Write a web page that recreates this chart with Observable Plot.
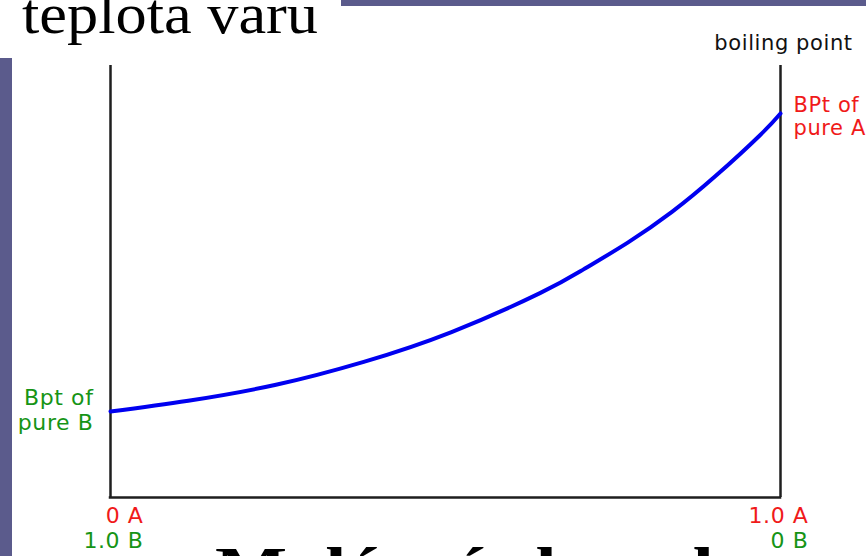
<!DOCTYPE html>
<html>
<head>
<meta charset="utf-8">
<script src="https://cdn.jsdelivr.net/npm/d3@7"></script>
<script src="https://cdn.jsdelivr.net/npm/@observablehq/plot@0.6"></script>
<style>
  html, body { margin: 0; padding: 0; background: #ffffff; }
  #wrap { position: relative; width: 866px; height: 556px; overflow: hidden; background: #ffffff; }
  .strip { position: absolute; background: #5b5b8c; }
  #wrap > svg { position: absolute; left: 0; top: 0; }
  #wrap svg.plotchart text { letter-spacing: 0.6px; }
</style>
</head>
<body>
<div id="wrap">
  <div class="strip" style="left:341px; top:0; width:525px; height:6px;"></div>
  <div class="strip" style="left:0; top:58px; width:12px; height:498px;"></div>
</div>
<script>
// Mole fraction of A (x axis) and boiling point (arbitrary units, 0..100 = axis height)
const moleFractionA = [0, 0.116, 0.247, 0.378, 0.509, 0.641, 0.706, 0.772, 0.838, 0.903, 0.969, 1.0];
const boilingPoint  = [19.9, 22.4, 26.1, 31.4, 38.3, 47.3, 52.8, 59.0, 66.1, 74.4, 83.8, 88.9];

const titleText = "teplota varu";
const xTitleText = "Molární zlomek";
const yAxisLabel = "boiling point";
const pureBLabel = "Bpt of\npure B";
const pureALabel = "BPt of\npure A";
const leftTickA = "0 A", leftTickB = "1.0 B";
const rightTickA = "1.0 A", rightTickB = "0 B";

const RED = "#f01a1a", GREEN = "#169416", AXIS = "#1e1e1e";

const data = moleFractionA.map((x, i) => ({x, y: boilingPoint[i]}));
const n = data.length - 1;

const font = "DejaVu Sans";
const fs = 22;

const chart = Plot.plot({
  className: "plotchart",
  width: 866,
  height: 556,
  marginLeft: 110,
  marginRight: 86,
  marginTop: 65,
  marginBottom: 59,
  x: {domain: [0, 1], axis: null},
  y: {domain: [0, 100], axis: null},
  style: {background: "transparent", fontFamily: font, overflow: "visible"},
  marks: [
    Plot.ruleX([0, 1], {y1: 0, y2: 100, stroke: AXIS, strokeWidth: 2.5}),
    Plot.ruleY([0], {x1: 0, x2: 1, stroke: AXIS, strokeWidth: 2.5, strokeLinecap: "square"}),
    Plot.line(data, {x: "x", y: "y", stroke: "#0000f0", strokeWidth: 4, curve: "natural"}),
    // axis title
    Plot.text([yAxisLabel], {x: () => 1, y: () => 100, text: d => d, fontSize: 21, fill: "#111",
      textAnchor: "middle", lineAnchor: "bottom", dx: 3, dy: -16}),
    // end labels
    Plot.text([data[0]], {x: "x", y: "y", text: () => pureBLabel, fontSize: fs, fill: GREEN,
      textAnchor: "end", lineAnchor: "middle", dx: -17, dy: -2, lineHeight: 1.15}),
    Plot.text([data[n]], {x: "x", y: "y", text: () => pureALabel, fontSize: 21, fill: RED,
      textAnchor: "start", lineAnchor: "middle", dx: 13, dy: 3, lineHeight: 1.1}),
    // tick labels
    Plot.text([leftTickA], {x: () => 0, y: () => 0, text: d => d, fontSize: fs, fill: RED,
      textAnchor: "end", lineAnchor: "top", dx: 33, dy: 10}),
    Plot.text([leftTickB], {x: () => 0, y: () => 0, text: d => d, fontSize: fs, fill: GREEN,
      textAnchor: "end", lineAnchor: "top", dx: 33, dy: 35}),
    Plot.text([rightTickA], {x: () => 1, y: () => 0, text: d => d, fontSize: fs, fill: RED,
      textAnchor: "end", lineAnchor: "top", dx: 28, dy: 10}),
    Plot.text([rightTickB], {x: () => 1, y: () => 0, text: d => d, fontSize: fs, fill: GREEN,
      textAnchor: "end", lineAnchor: "top", dx: 28, dy: 35})
  ]
});

const wrap = document.getElementById("wrap");
wrap.appendChild(chart);

// slide title and x title (serif, partly cut off by the frame, as in the original slide)
const overlay = d3.create("svg")
  .attr("width", 866).attr("height", 556)
  .style("pointer-events", "none");
overlay.append("text")
  .attr("x", 22).attr("y", 33)
  .attr("font-family", "Liberation Serif")
  .attr("font-size", 56)
  .attr("textLength", 296)
  .attr("lengthAdjust", "spacingAndGlyphs")
  .attr("fill", "#000")
  .text(titleText);
overlay.append("text")
  .attr("x", 215).attr("y", 587)
  .attr("font-family", "Liberation Serif")
  .attr("font-weight", "bold")
  .attr("font-size", 58)
  .attr("textLength", 520)
  .attr("lengthAdjust", "spacingAndGlyphs")
  .attr("fill", "#000")
  .text(xTitleText);
wrap.appendChild(overlay.node());
</script>
</body>
</html>
